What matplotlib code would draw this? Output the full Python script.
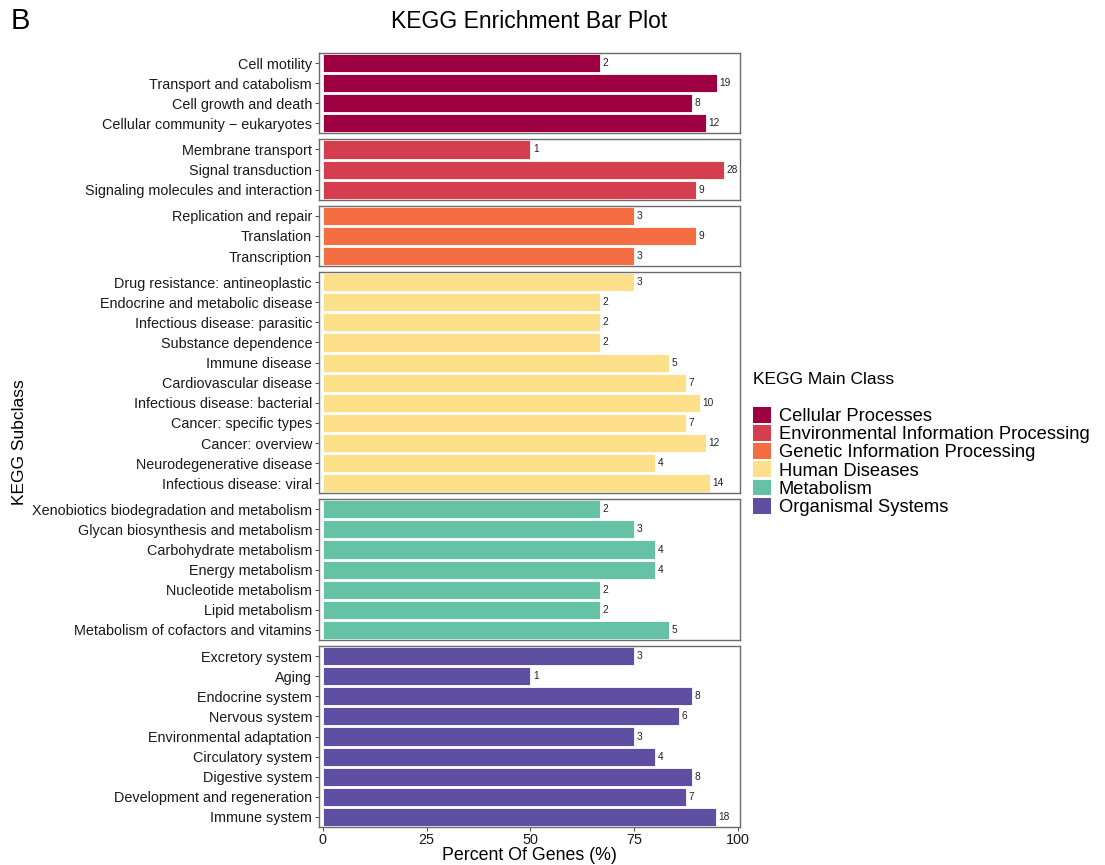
import matplotlib
matplotlib.use("Agg")
import matplotlib.pyplot as plt
from matplotlib.patches import Patch

plt.rcParams['font.family'] = ['Liberation Sans', 'DejaVu Sans']

main_classes = [
    "Cellular Processes",
    "Environmental Information Processing",
    "Genetic Information Processing",
    "Human Diseases",
    "Metabolism",
    "Organismal Systems",
]
class_colors = ["#9E0142", "#D53E4F", "#F46D43", "#FEE08B", "#66C2A5", "#5E4FA2"]

cellular_terms = ["Cell motility", "Transport and catabolism", "Cell growth and death",
                  "Cellular community - eukaryotes"]
cellular_pct = [66.7, 95.0, 88.9, 92.3]
cellular_n = [2, 19, 8, 12]

environmental_terms = ["Membrane transport", "Signal transduction",
                       "Signaling molecules and interaction"]
environmental_pct = [50.0, 96.6, 90.0]
environmental_n = [1, 28, 9]

genetic_terms = ["Replication and repair", "Translation", "Transcription"]
genetic_pct = [75.0, 90.0, 75.0]
genetic_n = [3, 9, 3]

disease_terms = ["Drug resistance: antineoplastic", "Endocrine and metabolic disease",
                 "Infectious disease: parasitic", "Substance dependence", "Immune disease",
                 "Cardiovascular disease", "Infectious disease: bacterial",
                 "Cancer: specific types", "Cancer: overview", "Neurodegenerative disease",
                 "Infectious disease: viral"]
disease_pct = [75.0, 66.7, 66.7, 66.7, 83.3, 87.5, 90.9, 87.5, 92.3, 80.0, 93.3]
disease_n = [3, 2, 2, 2, 5, 7, 10, 7, 12, 4, 14]

metabolism_terms = ["Xenobiotics biodegradation and metabolism", "Glycan biosynthesis and metabolism",
                    "Carbohydrate metabolism", "Energy metabolism", "Nucleotide metabolism",
                    "Lipid metabolism", "Metabolism of cofactors and vitamins"]
metabolism_pct = [66.7, 75.0, 80.0, 80.0, 66.7, 66.7, 83.3]
metabolism_n = [2, 3, 4, 4, 2, 2, 5]

organismal_terms = ["Excretory system", "Aging", "Endocrine system", "Nervous system",
                    "Environmental adaptation", "Circulatory system", "Digestive system",
                    "Development and regeneration", "Immune system"]
organismal_pct = [75.0, 50.0, 88.9, 85.7, 75.0, 80.0, 88.9, 87.5, 94.7]
organismal_n = [3, 1, 8, 6, 3, 4, 8, 7, 18]

x_ticks = [0, 25, 50, 75, 100]

groups = [
    (cellular_terms, cellular_pct, cellular_n),
    (environmental_terms, environmental_pct, environmental_n),
    (genetic_terms, genetic_pct, genetic_n),
    (disease_terms, disease_pct, disease_n),
    (metabolism_terms, metabolism_pct, metabolism_n),
    (organismal_terms, organismal_pct, organismal_n),
]

W, H = 1105, 865
fig = plt.figure(figsize=(W / 100, H / 100), dpi=100)

# facet layout in pixels
left_px, right_px = 319, 740
top_px, bottom_px = 53, 827
gap_px = 6
total_rows = sum(len(g[0]) for g in groups)
row_px = (bottom_px - top_px - gap_px * (len(groups) - 1)) / total_rows

border_col = "#6b6b6b"
y = top_px
for gi, (terms, pct, counts) in enumerate(groups):
    n = len(terms)
    h = n * row_px
    ax = fig.add_axes([left_px / W, 1 - (y + h) / H, (right_px - left_px) / W, h / H])
    pos = list(range(n))
    ax.barh(pos, pct, height=0.9, color=class_colors[gi], edgecolor="white", linewidth=0.6)
    for p, v, c in zip(pos, pct, counts):
        ax.text(v + 0.6, p, str(c), va="center", ha="left", fontsize=7.3, color="#222222")
    ax.set_ylim(n - 0.5, -0.5)
    ax.set_xlim(-0.9, 100.5)
    ax.set_yticks(pos)
    ax.set_yticklabels([t.replace("-", "\u2212") for t in terms], fontsize=10.4, color="#1a1a1a")
    ax.tick_params(axis="y", length=3, width=0.8, color="#555555", pad=2)
    for s in ax.spines.values():
        s.set_color(border_col)
        s.set_linewidth(1.0)
    ax.set_xticks(x_ticks)
    if gi < len(groups) - 1:
        ax.tick_params(axis="x", length=0, labelbottom=False)
    else:
        ax.set_xticklabels([str(t) for t in x_ticks], fontsize=10.4, color="#1a1a1a")
        ax.tick_params(axis="x", length=3, width=0.8, color="#555555", pad=1)
        ax.set_xlabel("Percent Of Genes (%)", fontsize=12.8, labelpad=0)
    y += h + gap_px

fig.text(529 / W, 1 - 22 / H, "KEGG Enrichment Bar Plot", ha="center", va="center", fontsize=16.5)
fig.text(11 / W, 1 - 21 / H, "B", ha="left", va="center", fontsize=21)
fig.text(20 / W, 1 - 442 / H, "KEGG Subclass", rotation=90, ha="center", va="center", fontsize=12.5)

handles = [Patch(facecolor=c, edgecolor="none") for c in class_colors]
leg = fig.legend(handles, main_classes, loc="upper left",
                 bbox_to_anchor=(746 / W, 1 - 365 / H), frameon=False,
                 title="KEGG Main Class", fontsize=13.2, title_fontsize=12.5,
                 handlelength=0.95, handleheight=0.95, handletextpad=0.45,
                 labelspacing=0.0, borderaxespad=0, alignment="left")
leg._legend_box.sep = 14

fig.savefig("out.png", dpi=100)
